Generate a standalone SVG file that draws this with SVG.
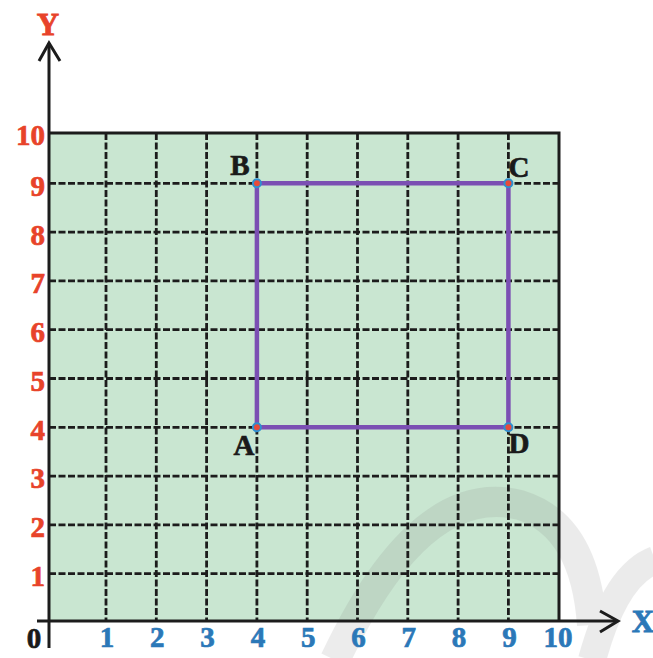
<svg xmlns="http://www.w3.org/2000/svg" width="653" height="658" viewBox="0 0 653 658">
<style>
.grid{stroke:#1c1c1c;stroke-width:2.8;stroke-dasharray:7 2.5;fill:none}
.solid{stroke:#1c1c1c;stroke-width:3;fill:none}
.axis{stroke:#1c1c1c;stroke-width:3;fill:none}
.yl{font-family:"Liberation Serif",serif;font-weight:bold;font-size:29px;fill:#e8432a;stroke:#e8432a;stroke-width:0.7;text-anchor:end}
.xl{font-family:"Liberation Serif",serif;font-weight:bold;font-size:29px;fill:#2b78b8;stroke:#2b78b8;stroke-width:0.7;text-anchor:middle}
.pl{font-family:"Liberation Serif",serif;font-weight:bold;font-size:29px;fill:#1a1a1a;stroke:#1a1a1a;stroke-width:0.7;text-anchor:middle}
.pt{fill:#e84a3a;stroke:#2f8fd0;stroke-width:2}
</style>
<rect width="653" height="658" fill="#ffffff"/>
<rect x="49" y="133" width="510" height="488" fill="#c9e6d1"/>
<g id="watermark" opacity="0.15" fill="none" stroke="#808080" stroke-linecap="butt">
<path d="M 335 660 Q 420 480 520 505 Q 585 525 592 625" stroke-width="30"/>
<path d="M 592 660 Q 615 575 655 560" stroke-width="28"/>
</g>
<g id="connectors">
<g id="gridlines">
<path class="grid" d="M106 133V621M156.3 133V621M206.6 133V621M256.9 133V621M307.2 133V621M357.5 133V621M407.8 133V621M458.1 133V621M508.4 133V621"/>
<path class="grid" d="M49 573.7H559M49 524.9H559M49 476.1H559M49 427.3H559M49 378.5H559M49 329.7H559M49 280.9H559M49 232.1H559M49 183.3H559"/>
<path class="solid" d="M49 133H559V621"/>
</g>
<g id="axes">
<path class="axis" d="M49 648V43"/>
<path class="axis" d="M39 61L49 43L60 61"/>
<path class="axis" d="M37 621H617"/>
<path class="axis" d="M600 611L618 621L600 632"/>
</g>
<path id="rect-ABCD" d="M256.9 427.3V183.3H508.4V427.3Z" fill="none" stroke="#7b4fb3" stroke-width="4.5"/>
</g>
<g id="labels-y">
<text class="yl" x="45" y="145">10</text>
<text class="yl" x="45" y="196">9</text>
<text class="yl" x="45" y="245">8</text>
<text class="yl" x="45" y="293">7</text>
<text class="yl" x="45" y="342">6</text>
<text class="yl" x="45" y="391">5</text>
<text class="yl" x="45" y="440">4</text>
<text class="yl" x="45" y="488">3</text>
<text class="yl" x="45" y="537">2</text>
<text class="yl" x="45" y="586">1</text>
</g>
<g id="labels-x">
<text class="xl" x="107" y="647">1</text>
<text class="xl" x="157.3" y="647">2</text>
<text class="xl" x="207.6" y="647">3</text>
<text class="xl" x="258" y="647">4</text>
<text class="xl" x="308.2" y="647">5</text>
<text class="xl" x="358.5" y="647">6</text>
<text class="xl" x="408.8" y="647">7</text>
<text class="xl" x="459.1" y="647">8</text>
<text class="xl" x="509.4" y="647">9</text>
<text class="xl" x="558" y="647">10</text>
</g>
<text id="origin" class="pl" x="34" y="648">0</text>
<text id="axis-y-label" x="48" y="35" style="font-family:'Liberation Serif',serif;font-weight:bold;font-size:31px;fill:#e8432a;stroke:#e8432a;stroke-width:0.8;text-anchor:middle">Y</text>
<text id="axis-x-label" x="643" y="632" style="font-family:'Liberation Serif',serif;font-weight:bold;font-size:31px;fill:#2b78b8;stroke:#2b78b8;stroke-width:0.8;text-anchor:middle">X</text>
<g id="point-A"><circle class="pt" cx="256.9" cy="427.3" r="4"/><text class="pl" x="244" y="455">A</text></g>
<g id="point-B"><circle class="pt" cx="256.9" cy="183.3" r="4"/><text class="pl" x="240" y="175">B</text></g>
<g id="point-C"><circle class="pt" cx="508.4" cy="183.3" r="4"/><text class="pl" x="519" y="177">C</text></g>
<g id="point-D"><circle class="pt" cx="508.4" cy="427.3" r="4"/><text class="pl" x="519" y="453">D</text></g>
</svg>
